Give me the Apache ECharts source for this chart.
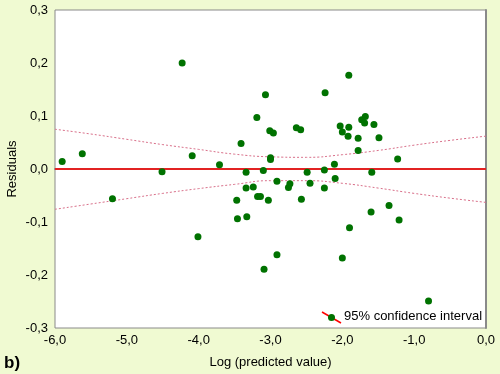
<!DOCTYPE html>
<html><head><meta charset="utf-8">
<script src="https://cdn.jsdelivr.net/npm/echarts@6/dist/echarts.min.js"></script>
<style>html,body{margin:0;padding:0;background:#f0fad2;}#c{width:500px;height:374px;}</style>
</head><body><div id="c"></div>
<script>
const xTicks = ['-6,0','-5,0','-4,0','-3,0','-2,0','-1,0','0,0'];
const yTicks = ['-0,3','-0,2','-0,1','0,0','0,1','0,2','0,3'];
const ptX = [-5.90,-5.62,-5.20,-4.51,-4.23,-4.09,-4.01,-3.71,-3.47,-3.46,-3.41,-3.34,-3.34,-3.33,-3.24,-3.19,-3.18,-3.14,-3.10,-3.09,-3.07,-3.03,-3.01,-3.00,-3.00,-2.96,-2.91,-2.91,-2.75,-2.73,-2.64,-2.58,-2.57,-2.49,-2.45,-2.25,-2.25,-2.24,-2.11,-2.10,-2.03,-2.00,-2.00,-1.92,-1.91,-1.91,-1.90,-1.78,-1.78,-1.73,-1.69,-1.68,-1.60,-1.59,-1.56,-1.49,-1.35,-1.23,-1.21,-0.80];
const ptY = [0.014,0.029,-0.056,-0.005,0.200,0.025,-0.128,0.008,-0.059,-0.094,0.048,-0.006,-0.036,-0.090,-0.034,0.097,-0.052,-0.052,-0.003,-0.189,0.140,-0.059,0.072,0.021,0.018,0.068,-0.023,-0.162,-0.035,-0.028,0.078,0.074,-0.057,-0.006,-0.027,-0.002,-0.036,0.144,0.009,-0.018,0.081,0.070,-0.168,0.062,0.079,0.177,-0.111,0.058,0.035,0.093,0.087,0.099,-0.081,-0.006,0.084,0.059,-0.069,0.019,-0.096,-0.249];
const ciX = [-6,-5.5,-5,-4.5,-4,-3.5,-3,-2.5,-2,-1.5,-1,-0.5,0];
const ciUpper = [0.075,0.066,0.056,0.046,0.037,0.028,0.023,0.022,0.027,0.035,0.045,0.054,0.062];
const ciLower = [-0.076,-0.066,-0.056,-0.046,-0.037,-0.029,-0.022,-0.022,-0.027,-0.036,-0.046,-0.055,-0.063];
const legendText = '95% confidence interval';
const zeroLine = [[-6,0],[0,0]];

const fontFam = '"Liberation Sans", Arial, sans-serif';
const chart = echarts.init(document.getElementById('c'));
chart.setOption({
  backgroundColor: '#f0fad2',
  animation: false,
  grid: {left: 55, top: 10, right: 14, bottom: 46, containLabel: false, outerBoundsMode: 'none',
    show: true, backgroundColor: '#ffffff', borderColor: '#8a8a8a', borderWidth: 1},
  xAxis: {
    type: 'value', min: -6, max: 0, interval: 1,
    name: 'Log (predicted value)', nameLocation: 'middle', nameGap: 28, nameMoveOverlap: false,
    nameTextStyle: {fontFamily: fontFam, fontSize: 13, color: '#000'},
    axisLine: {show: true, lineStyle: {color: '#8a8a8a', width: 2}}, axisTick: {show: false}, splitLine: {show: false},
    axisLabel: {fontFamily: fontFam, fontSize: 13, color: '#000', margin: 6,
      formatter: v => xTicks[Math.round(v + 6)]}
  },
  yAxis: [{
    type: 'value', min: -0.3, max: 0.3, interval: 0.1,
    name: 'Residuals', nameLocation: 'middle', nameGap: 36, nameMoveOverlap: false,
    nameTextStyle: {fontFamily: fontFam, fontSize: 13, color: '#000'},
    axisLine: {show: false}, axisTick: {show: false}, splitLine: {show: false},
    axisLabel: {fontFamily: fontFam, fontSize: 13, color: '#000', margin: 7,
      formatter: v => yTicks[Math.round(v * 10 + 3)]}
  }, {
    type: 'value', min: -0.3, max: 0.3, interval: 0.1, position: 'right',
    axisLine: {show: true, lineStyle: {color: '#8a8a8a', width: 2}}, axisTick: {show: false},
    axisLabel: {show: false}, splitLine: {show: false}
  }],
  series: [
    {type: 'line', data: zeroLine, symbol: 'none', lineStyle: {color: '#ff0000', width: 1.5}, z: 2},
    {type: 'line', data: ciX.map((x, i) => [x, ciUpper[i]]), smooth: true, symbol: 'none',
      lineStyle: {color: '#d9708a', width: 1, type: [2, 2]}, z: 2},
    {type: 'line', data: ciX.map((x, i) => [x, ciLower[i]]), smooth: true, symbol: 'none',
      lineStyle: {color: '#d9708a', width: 1, type: [2, 2]}, z: 2},
    {type: 'scatter', data: ptX.map((x, i) => [x, ptY[i]]), symbol: 'circle', symbolSize: 7,
      itemStyle: {color: '#007200', opacity: 1}, z: 3}
  ],
  graphic: [
    {type: 'line', shape: {x1: 322, y1: 312, x2: 341, y2: 323}, style: {stroke: '#ff0000', lineWidth: 1.5}, z: 10},
    {type: 'circle', shape: {cx: 331.5, cy: 317.5, r: 3.5}, style: {fill: '#007200'}, z: 11},
    {type: 'text', left: 344, top: 310, style: {text: legendText, fontFamily: fontFam, fontSize: 13, fill: '#000'}, z: 11},
    {type: 'text', left: 4, top: 355, style: {text: 'b)', fontFamily: fontFam, fontSize: 17, fontWeight: 'bold', fill: '#000'}, z: 11}
  ]
});
</script></body></html>
